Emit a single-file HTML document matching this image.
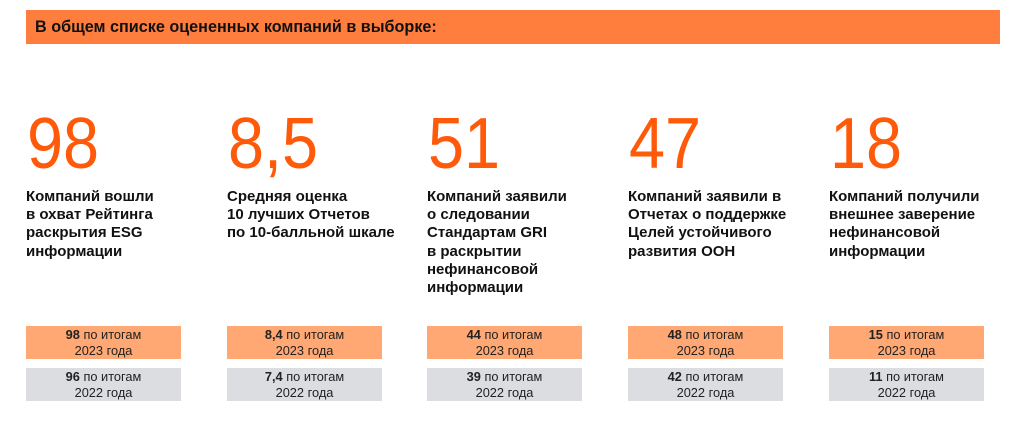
<!DOCTYPE html>
<html><head><meta charset="utf-8"><style>
body{margin:0;width:1024px;height:432px;background:#fff;font-family:"Liberation Sans",Arial,sans-serif;position:relative;overflow:hidden}
.hdr{position:absolute;left:26px;top:10px;width:974px;height:34px;background:#FF7E3E;color:#111;font-weight:bold;font-size:16.2px;line-height:34px;padding-left:9px;box-sizing:border-box}
.col{position:absolute;top:0;width:180px}
.num{position:absolute;top:102px;left:1px;font-size:72px;color:#FF5A0A;line-height:84px;transform:scaleX(0.9);transform-origin:0 0}
.desc{position:absolute;top:188px;left:0;font-size:15px;font-weight:bold;line-height:18.2px;color:#111;white-space:nowrap}
.box{position:absolute;left:0;width:155px;height:33px;font-size:12.8px;line-height:16px;text-align:center;color:#222;padding-top:1px;box-sizing:border-box}
.o{top:326px;background:#FFA873}
.g{top:368px;background:#DBDDE0}
</style></head><body>
<div class="hdr">В общем списке оцененных компаний в выборке:</div>

<div class="col" style="left:26px">
<div class="num">98</div>
<div class="desc">Компаний вошли<br>в охват Рейтинга<br>раскрытия ESG<br>информации</div>
<div class="box o"><b>98</b> по итогам<br>2023 года</div>
<div class="box g"><b>96</b> по итогам<br>2022 года</div>
</div>

<div class="col" style="left:227px">
<div class="num">8,5</div>
<div class="desc">Средняя оценка<br>10 лучших Отчетов<br>по 10-балльной шкале</div>
<div class="box o"><b>8,4</b> по итогам<br>2023 года</div>
<div class="box g"><b>7,4</b> по итогам<br>2022 года</div>
</div>

<div class="col" style="left:427px">
<div class="num">51</div>
<div class="desc">Компаний заявили<br>о следовании<br>Стандартам GRI<br>в раскрытии<br>нефинансовой<br>информации</div>
<div class="box o"><b>44</b> по итогам<br>2023 года</div>
<div class="box g"><b>39</b> по итогам<br>2022 года</div>
</div>

<div class="col" style="left:628px">
<div class="num">47</div>
<div class="desc">Компаний заявили в<br>Отчетах о поддержке<br>Целей устойчивого<br>развития ООН</div>
<div class="box o"><b>48</b> по итогам<br>2023 года</div>
<div class="box g"><b>42</b> по итогам<br>2022 года</div>
</div>

<div class="col" style="left:829px">
<div class="num">18</div>
<div class="desc">Компаний получили<br>внешнее заверение<br>нефинансовой<br>информации</div>
<div class="box o"><b>15</b> по итогам<br>2023 года</div>
<div class="box g"><b>11</b> по итогам<br>2022 года</div>
</div>
</body></html>
